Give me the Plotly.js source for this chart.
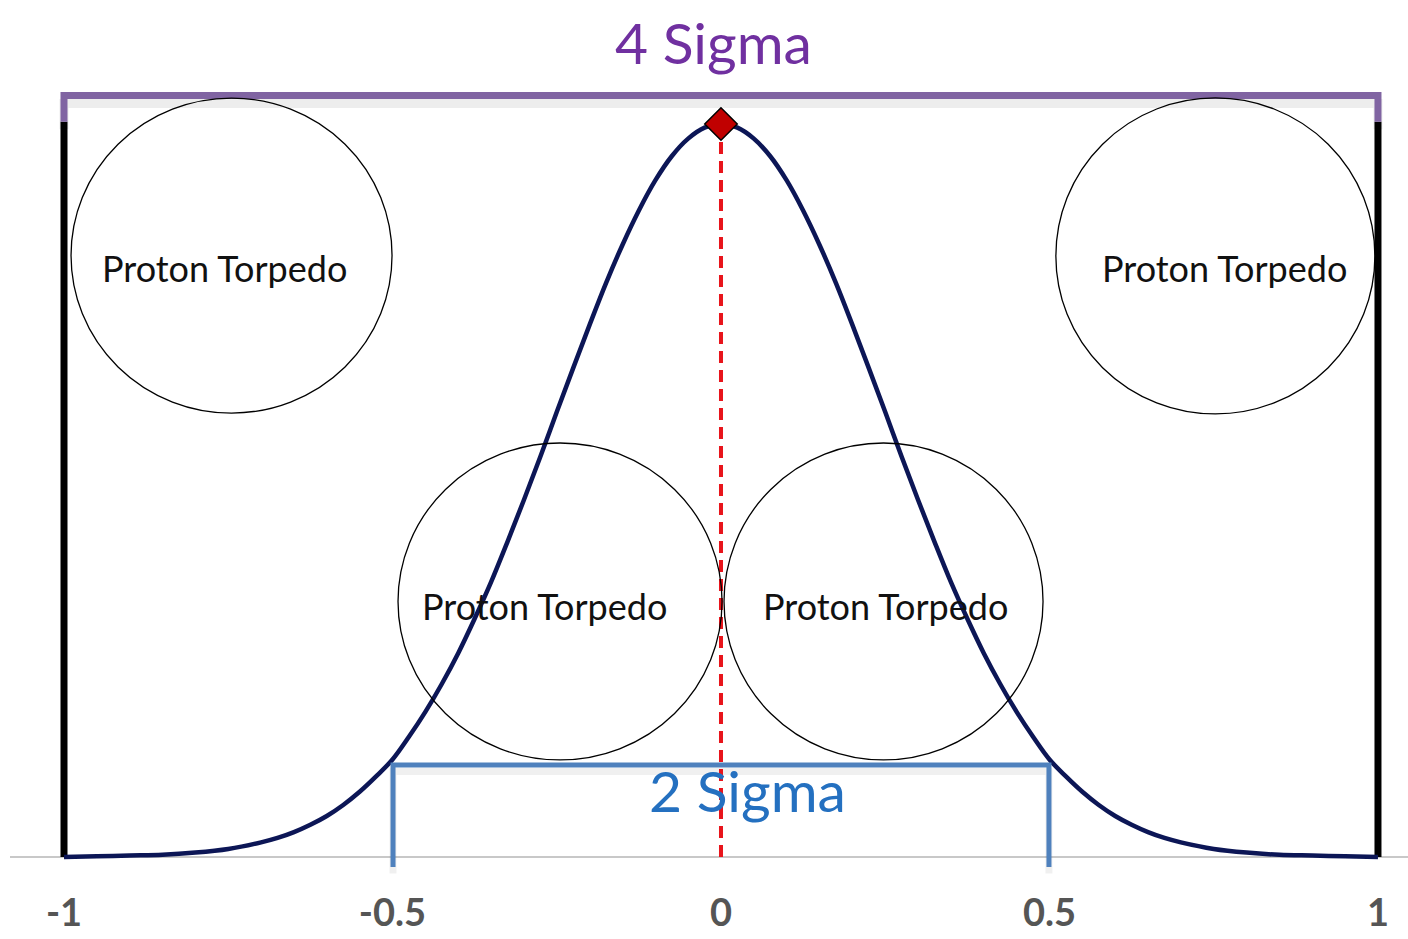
<!DOCTYPE html>
<html>
<head>
<meta charset="utf-8">
<script src="https://cdn.plot.ly/plotly-3.0.1.min.js"></script>
<style>html,body{margin:0;padding:0;background:#fff;}#chart{width:1408px;height:939px;}</style>
</head>
<body>
<div id="chart"></div>
<script>
// Distribution curve (height relative to peak)
const curveX = [-1, -0.95, -0.9, -0.85, -0.8, -0.75, -0.7, -0.675, -0.65, -0.625, -0.6, -0.575, -0.55, -0.525, -0.5, -0.475, -0.45, -0.425, -0.4, -0.375, -0.35, -0.325, -0.3, -0.275, -0.25, -0.225, -0.2, -0.175, -0.15, -0.125, -0.1, -0.075, -0.05, -0.025, 0,
                0.025, 0.05, 0.075, 0.1, 0.125, 0.15, 0.175, 0.2, 0.225, 0.25, 0.275, 0.3, 0.325, 0.35, 0.375, 0.4, 0.425, 0.45, 0.475, 0.5, 0.525, 0.55, 0.575, 0.6, 0.625, 0.65, 0.675, 0.7, 0.75, 0.8, 0.85, 0.9, 0.95, 1];
const curveY = [0.000, 0.001, 0.002, 0.003, 0.006, 0.011, 0.020, 0.026, 0.034, 0.044, 0.056, 0.071, 0.089, 0.110, 0.133, 0.164, 0.198, 0.236, 0.278, 0.325, 0.375, 0.430, 0.487, 0.546, 0.607, 0.667, 0.726, 0.783, 0.835, 0.882, 0.923, 0.956, 0.980, 0.995, 1.000,
                0.995, 0.980, 0.956, 0.923, 0.882, 0.835, 0.783, 0.726, 0.667, 0.607, 0.546, 0.487, 0.430, 0.375, 0.325, 0.278, 0.236, 0.198, 0.164, 0.133, 0.110, 0.089, 0.071, 0.056, 0.044, 0.034, 0.026, 0.020, 0.011, 0.006, 0.003, 0.002, 0.001, 0.000];
const peakX = [0];
const peakY = [1.0];
const wallX = [-1, 1];
const wallTop = 1.003;
const fourSigmaX = [-1, 1];
const fourSigmaLevel = 1.039;
const twoSigmaX = [-0.4992, 0.4992];
const twoSigmaLevel = 0.1255;
const twoSigmaFoot = -0.0136;
const tickVals = [-1, -0.5, 0, 0.5, 1];
const tickText = ['-1', '-0.5', '0', '0.5', '1'];
const torpedoLabel = 'Proton Torpedo';
const torpedoCenters = [[-0.745, 0.8205], [0.7525, 0.82], [-0.245, 0.3486], [0.2474, 0.3486]];
const torpedoRadiiX = [0.2443, 0.2428, 0.2466, 0.2428];
const torpedoRadiiY = [0.2149, 0.2156, 0.2162, 0.2162];
const torpedoTextPos = [[-0.755, 0.803], [0.767, 0.803], [-0.268, 0.342], [0.2511, 0.342]];

const traces = [
  { // black walls
    x: [wallX[0], wallX[0], null, wallX[1], wallX[1]],
    y: [0, wallTop, null, 0, wallTop],
    mode: 'lines', line: {color: '#000000', width: 7}, hoverinfo: 'skip'
  },
  { // purple 4 sigma bracket shadow
    x: [fourSigmaX[0], fourSigmaX[0], fourSigmaX[1], fourSigmaX[1]],
    y: [wallTop - 0.01, fourSigmaLevel - 0.011, fourSigmaLevel - 0.011, wallTop - 0.01],
    mode: 'lines', line: {color: 'rgba(0,0,0,0.07)', width: 9}, hoverinfo: 'skip'
  },
  { // purple 4 sigma bracket
    x: [fourSigmaX[0], fourSigmaX[0], fourSigmaX[1], fourSigmaX[1]],
    y: [wallTop, fourSigmaLevel, fourSigmaLevel, wallTop],
    mode: 'lines', line: {color: '#8064a2', width: 7}, hoverinfo: 'skip'
  },
  { // curve
    x: curveX, y: curveY, mode: 'lines',
    line: {color: '#0c1656', width: 4.5, shape: 'spline', smoothing: 1.0}, hoverinfo: 'skip'
  },
  { // blue 2 sigma bracket shadow
    x: [twoSigmaX[0], twoSigmaX[0], twoSigmaX[1], twoSigmaX[1]],
    y: [twoSigmaFoot - 0.009, twoSigmaLevel - 0.009, twoSigmaLevel - 0.009, twoSigmaFoot - 0.009],
    mode: 'lines', line: {color: 'rgba(0,0,0,0.06)', width: 7}, hoverinfo: 'skip'
  },
  { // blue 2 sigma bracket
    x: [twoSigmaX[0], twoSigmaX[0], twoSigmaX[1], twoSigmaX[1]],
    y: [twoSigmaFoot, twoSigmaLevel, twoSigmaLevel, twoSigmaFoot],
    mode: 'lines', line: {color: '#4f81bd', width: 5}, hoverinfo: 'skip'
  },
  { // red dashed mean line
    x: [peakX[0], peakX[0]], y: [0, peakY[0]], mode: 'lines',
    line: {color: '#e8141b', width: 4, dash: '12px,7px'}, hoverinfo: 'skip'
  },
  { // peak diamond
    x: peakX, y: peakY, mode: 'markers', cliponaxis: false,
    marker: {symbol: 'diamond', size: 25, color: '#c00000', line: {color: '#000000', width: 1.5}}, hoverinfo: 'skip'
  }
];

const shapes = torpedoCenters.map((c, i) => ({
  type: 'circle', xref: 'x', yref: 'y',
  x0: c[0] - torpedoRadiiX[i], x1: c[0] + torpedoRadiiX[i],
  y0: c[1] - torpedoRadiiY[i], y1: c[1] + torpedoRadiiY[i],
  line: {color: '#000000', width: 1.3}, fillcolor: 'rgba(0,0,0,0)', layer: 'above'
}));

const annotations = torpedoTextPos.map(p => ({
  x: p[0], y: p[1], xref: 'x', yref: 'y', text: torpedoLabel, showarrow: false,
  font: {family: 'Lato, "Open Sans", sans-serif', size: 36, color: '#111111'}
}));
annotations.push({
  x: -0.0107, y: 1.112, xref: 'x', yref: 'y', text: '4 Sigma', showarrow: false,
  font: {family: 'Lato, "Open Sans", sans-serif', size: 57, color: '#7030a0'}
});
annotations.push({
  x: 0.041, y: 0.0914, xref: 'x', yref: 'y', text: '2 Sigma', showarrow: false,
  font: {family: 'Lato, "Open Sans", sans-serif', size: 57, color: '#2470c0'}
});

const layout = {
  width: 1408, height: 939,
  margin: {l: 10, r: 0, t: 0, b: 64, pad: 0},
  paper_bgcolor: '#ffffff', plot_bgcolor: '#ffffff',
  showlegend: false,
  xaxis: {
    range: [-1.0822, 1.0457], showgrid: false, zeroline: false, showline: false,
    tickmode: 'array', tickvals: tickVals, ticktext: tickText.map(t => '<b>' + t + '</b>'), ticks: '',
    ticklabelstandoff: 12,
    tickfont: {family: 'Lato, "Open Sans", sans-serif', size: 38, color: '#555555', weight: 700}
  },
  yaxis: {
    range: [-0.02456, 1.16917], showgrid: false, showticklabels: false, ticks: '',
    zeroline: true, zerolinecolor: '#c8c8c8', zerolinewidth: 2, showline: false
  },
  shapes: shapes,
  annotations: annotations
};

Plotly.newPlot('chart', traces, layout, {displayModeBar: false, staticPlot: true});
</script>
</body>
</html>
